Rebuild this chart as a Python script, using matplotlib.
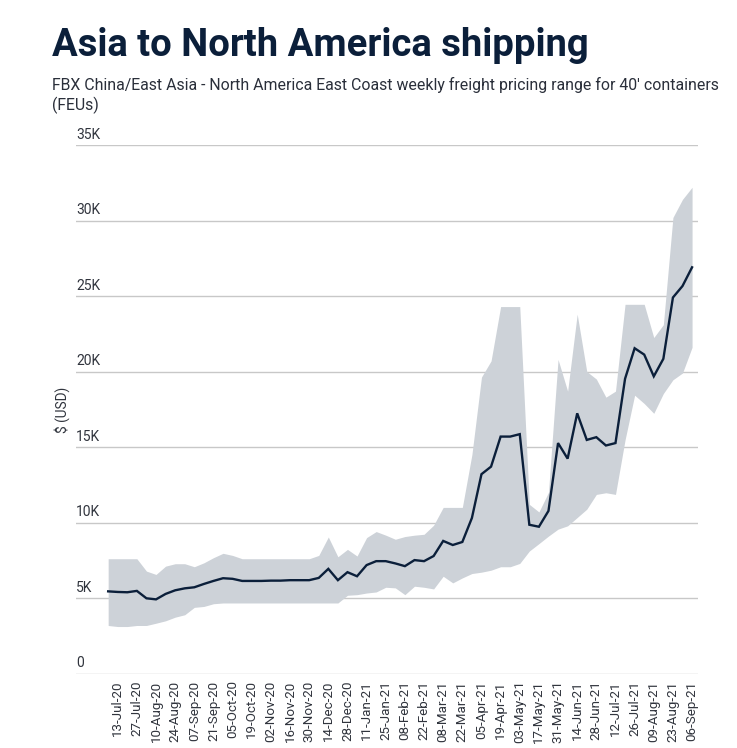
import matplotlib
matplotlib.use("Agg")
import matplotlib.pyplot as plt
import pandas as pd

# ---- data (values in thousands of USD per FEU) ----
dates = pd.date_range("2020-07-06", "2021-09-06", freq="7D")

mid = [5.44, 5.40, 5.38, 5.47, 4.98, 4.91, 5.27, 5.51, 5.64, 5.71,
       5.93, 6.13, 6.31, 6.27, 6.13, 6.13, 6.13, 6.15, 6.15, 6.18,
       6.18, 6.18, 6.33, 6.93, 6.18, 6.71, 6.44, 7.18, 7.44, 7.44,
       7.29, 7.11, 7.51, 7.44, 7.78, 8.78, 8.51, 8.71, 10.3, 13.2,
       13.7, 15.69, 15.69, 15.85, 9.85, 9.72, 10.77, 15.26, 14.23, 17.23,
       15.47, 15.65, 15.1, 15.26, 19.52, 21.54, 21.12, 19.68, 20.84, 24.9,
       25.66, 26.9]

upper = [7.6, 7.6, 7.6, 7.6, 6.78, 6.56, 7.11, 7.27, 7.27, 7.07,
         7.33, 7.67, 7.96, 7.82, 7.6, 7.6, 7.6, 7.6, 7.6, 7.6,
         7.6, 7.6, 7.82, 9.04, 7.73, 8.22, 7.78, 9.0, 9.4, 9.16,
         8.89, 9.07, 9.16, 9.22, 9.82, 11.0, 11.0, 11.0, 14.5, 19.63,
         20.7, 24.3, 24.3, 24.3, 11.2, 10.7, 12.0, 20.8, 18.7, 23.8,
         20.0, 19.5, 18.3, 18.7, 24.45, 24.45, 24.45, 22.25, 23.1, 30.2,
         31.4, 32.2]

lower = [3.18, 3.11, 3.11, 3.18, 3.18, 3.33, 3.49, 3.73, 3.89, 4.38,
         4.44, 4.62, 4.67, 4.67, 4.67, 4.67, 4.67, 4.67, 4.67, 4.67,
         4.67, 4.67, 4.67, 4.67, 4.67, 5.18, 5.22, 5.33, 5.4, 5.71,
         5.67, 5.22, 5.78, 5.71, 5.6, 6.44, 6.0, 6.33, 6.62, 6.71,
         6.84, 7.07, 7.07, 7.29, 8.11, 8.6, 9.1, 9.56, 9.78, 10.33,
         10.88, 11.86, 11.97, 11.86, 15.47, 18.43, 17.88, 17.23, 18.54, 19.45,
         19.9, 21.6]

yticks = [0, 5, 10, 15, 20, 25, 30, 35]
ytick_labels = ["0", "5K", "10K", "15K", "20K", "25K", "30K", "35K"]
xtick_idx = list(range(1, len(dates), 2))
xtick_labels = [dates[i].strftime("%d-%b-%y") for i in xtick_idx]

title = "Asia to North America shipping"
subtitle1 = "FBX China/East Asia - North America East Coast weekly freight pricing range for 40' containers"
subtitle2 = "(FEUs)"
ylabel = "$ (USD)"

# ---- styling ----
NAVY = "#0b1f3a"
BAND = "#cdd2d8"
GRID = "#c8c8c8"
TXT = "#30343d"

W, H = 737, 748
fig = plt.figure(figsize=(W / 100, H / 100), dpi=100)
ax = fig.add_axes([76 / W, 1 - 673.5 / H, (698 - 76) / W, (673.5 - 145) / H])

x = list(range(len(dates)))
ax.fill_between(x, lower, upper, color=BAND, linewidth=0, zorder=2)
ax.plot(x, mid, color=NAVY, linewidth=1.7, zorder=3, solid_joinstyle="miter")

ax.set_xlim(-3.36, len(dates) - 1 + 0.62)
ax.set_ylim(0, 35)
ax.set_yticks(yticks)
ax.set_yticklabels([])
ax.yaxis.grid(True, color=GRID, linewidth=1.0, zorder=1)
ax.set_axisbelow(True)
for s in ax.spines.values():
    s.set_visible(False)
ax.tick_params(axis="y", length=0)
ax.tick_params(axis="x", length=0, pad=5)
ax.set_xticks(xtick_idx)
ax.set_xticklabels(xtick_labels, rotation=90, fontsize=9.6, color=TXT,
                   family="Roboto", va="top", ha="center")

ytrans = ax.get_yaxis_transform()
for v, lab in zip(yticks, ytick_labels):
    ax.text(0.0, v + 0.2, lab, transform=ytrans, ha="left", va="bottom",
            fontsize=10, color=TXT, family="Roboto")

fig.text(62 / W, 1 - 410 / H, ylabel, rotation=90, ha="center", va="center",
         fontsize=9.8, color=TXT, family="Roboto")

t = fig.text(52 / W, 1 - 56 / H, title, ha="left", va="baseline",
             fontsize=27, fontweight="bold", color=NAVY, family="Roboto")
s1 = fig.text(52 / W, 1 - 90 / H, subtitle1, ha="left", va="baseline",
              fontsize=10.6, color="#2a2f3a", family="Roboto")
s2 = fig.text(52 / W, 1 - 110 / H, subtitle2, ha="left", va="baseline",
              fontsize=10.6, color="#2a2f3a", family="Roboto")

# fit text widths to the reference layout
renderer = fig.canvas.get_renderer()
def fit(txt, target_px):
    w = txt.get_window_extent(renderer).width
    txt.set_fontsize(txt.get_fontsize() * target_px / w)
fit(t, 538)
fit(s1, 666)
s2.set_fontsize(s1.get_fontsize())

fig.savefig("out.png", dpi=100)
